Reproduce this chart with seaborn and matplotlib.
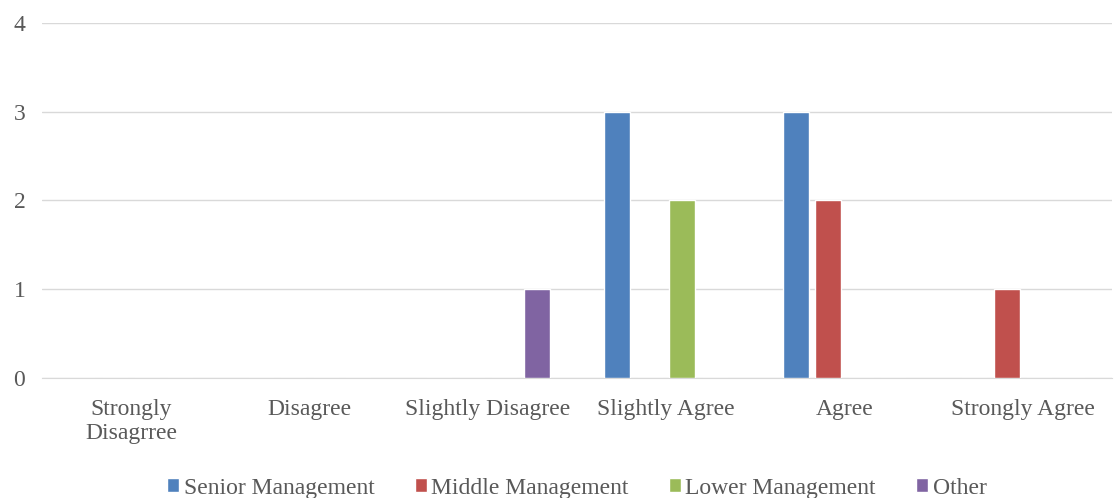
import numpy as np
import pandas as pd
import matplotlib.pyplot as plt
import seaborn as sns

# Data
categories = ['Strongly\nDisagrree', 'Disagree', 'Slightly Disagree',
              'Slightly Agree', 'Agree', 'Strongly Agree']
groups = ['Senior Management', 'Middle Management', 'Lower Management', 'Other']
senior = [0, 0, 0, 3, 3, 0]
middle = [0, 0, 0, 0, 2, 1]
lower = [0, 0, 0, 2, 0, 0]
other = [0, 0, 1, 0, 0, 0]
colors = ['#4F81BD', '#C0504D', '#9BBB59', '#8064A2']

df = pd.DataFrame({
    'Response': categories * 4,
    'Group': np.repeat(groups, len(categories)),
    'Count': senior + middle + lower + other,
})

sns.set_style('white')
plt.rcParams['font.family'] = ['Liberation Serif', 'DejaVu Serif']

fig = plt.figure(figsize=(11.14, 4.98), dpi=100)
ax = fig.add_axes([42 / 1114, 1 - 378 / 498, 1070 / 1114, 355 / 498])
sns.barplot(data=df, x='Response', y='Count', hue='Group', order=categories,
            hue_order=groups, palette=colors, width=0.73, gap=0.2,
            saturation=1, ax=ax, zorder=3)

ax.set_ylim(0, 4)
ax.set_yticks(range(5))
ax.set_xlim(-0.5, len(categories) - 0.5)
ax.grid(axis='y', color='#D9D9D9', linewidth=1, zorder=0)
for s in ['top', 'right', 'left']:
    ax.spines[s].set_visible(False)
ax.spines['bottom'].set_color('#D9D9D9')
ax.tick_params(axis='both', length=0, labelsize=17, colors='#595959')
ax.tick_params(axis='y', pad=12)
ax.tick_params(axis='x', pad=15)
ax.set_xlabel('')
ax.set_ylabel('')

ax.legend(loc='center', bbox_to_anchor=(0.5, -0.31), ncol=4,
          frameon=False, fontsize=17, handlelength=0.5, handleheight=0.5,
          handletextpad=0.2, columnspacing=1.7, labelcolor='#595959')

fig.savefig('out.png', dpi=100)
